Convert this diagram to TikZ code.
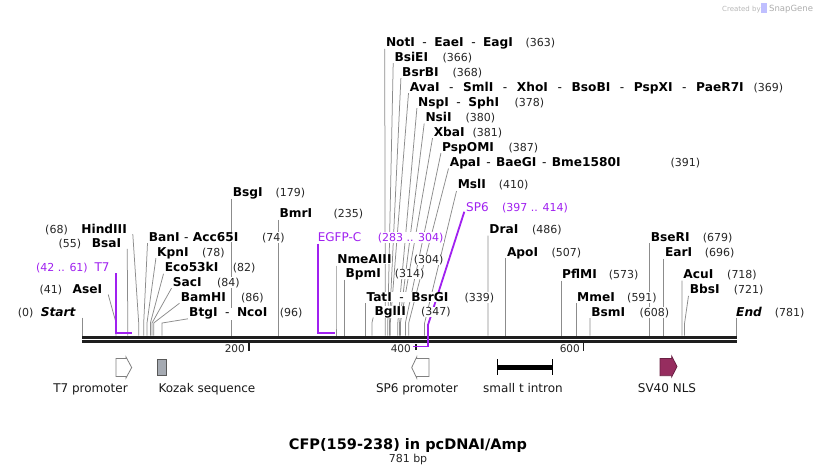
\documentclass[tikz,border=0pt]{standalone}
\usepackage{fontspec}
\setmainfont{DejaVu Sans}
\pgfdeclarelayer{back}
\pgfdeclarelayer{bg}
\pgfsetlayers{back,bg,main}
\definecolor{sgpurple}{RGB}{160,32,240}
\definecolor{nlscol}{RGB}{150,45,95}
\definecolor{kozcol}{RGB}{165,170,178}
\definecolor{barcol}{RGB}{30,30,30}
\tikzset{
  nm/.style={font=\fontsize{12.2}{14}\selectfont\bfseries, inner sep=0.3pt, fill=white, text=black},
  num/.style={font=\fontsize{11}{13}\selectfont, inner sep=0.3pt, fill=white, text=black!85},
  plab/.style={font=\fontsize{12}{14}\selectfont, inner sep=0.3pt, fill=white, text=sgpurple},
  pnum/.style={font=\fontsize{11}{13}\selectfont, inner sep=0.3pt, fill=white, text=sgpurple},
  lead/.style={draw=black!45, line width=0.75pt},
  purp/.style={draw=sgpurple, line width=1.8pt},
  flab/.style={font=\fontsize{12}{14}\selectfont, inner sep=0pt, text=black!90},
  ticklab/.style={font=\fontsize{10.5}{12}\selectfont, inner sep=0pt, text=black!85},
  tickmark/.style={draw=barcol, line width=1.8pt},
  openarrow/.style={draw=black!50, fill=white, line width=0.8pt, line join=miter},
}
\newcommand\sepd[1][7.5pt]{\hspace{#1}{\mdseries -}\hspace{#1}}
% right-hand label: id, label x, label y (centre), site x, name, number x, number
\newcommand\rlab[7]{%
  \node[nm, anchor=base west] (n#1) at ({#2},{#3+4.4}) {#5};
  \node[num, anchor=base west] (u#1) at ({#6},{#3+4.4}) {(#7)};
  \coordinate (a#1) at ({#2-0.8},{#3+6.5});
  \coordinate (k#1) at ({#4},323);
  \coordinate (s#1) at ({#4},335.6);
  \begin{pgfonlayer}{bg}\draw[lead] (a#1) -- (k#1) -- (s#1);\end{pgfonlayer}
}
% left-hand label: id, name right x, label y, site x, name, number right x, number
\newcommand\llab[7]{%
  \node[nm, anchor=base east] (n#1) at ({#2},{#3+4.4}) {#5};
  \node[num, anchor=base east] (u#1) at ({#6},{#3+4.4}) {(#7)};
  \coordinate (a#1) at ({#2+5.5},{#3+5.5});
  \coordinate (k#1) at ({#4},323);
  \coordinate (s#1) at ({#4},335.6);
  \begin{pgfonlayer}{bg}\draw[lead] (a#1) -- (k#1) -- (s#1);\end{pgfonlayer}
}
\begin{document}
\begin{tikzpicture}[x=1pt,y=-1pt]
\useasboundingbox (0,0) rectangle (818,475);
\begin{pgfonlayer}{back}
\fill[white] (0,0) rectangle (818,475);
\end{pgfonlayer}

% watermark
\node[font=\fontsize{7}{8}\selectfont, text=black!28, anchor=base west, inner sep=0] (wm1) at (722,11) {Created by};
\fill[blue!25] (761,3) rectangle (766.5,13);
\node[font=\fontsize{8.5}{9}\selectfont, text=black!32, anchor=base west, inner sep=0] (wm2) at (769,11.5) {SnapGene};

% ---------- top cluster ----------
\rlab{NotI}{385.5}{42.3}{385.3}{NotI\sepd EaeI\sepd EagI}{525}{363}
\rlab{BsiEI}{394}{56.7}{387.8}{BsiEI}{442}{366}
\rlab{BsrBI}{401.7}{71.7}{389.5}{BsrBI}{452}{368}
\rlab{AvaI}{409.3}{86.7}{390.3}{AvaI\sepd[9.6pt]SmlI\sepd[9.6pt]XhoI\sepd[9.6pt]BsoBI\sepd[9.6pt]PspXI\sepd[9.6pt]PaeR7I}{753}{369}
\rlab{NspI}{417.7}{101.7}{397.8}{NspI\sepd SphI}{514}{378}
\rlab{NsiI}{425}{117}{399.5}{NsiI}{465}{380}
\rlab{XbaI}{433.3}{131.7}{400.4}{XbaI}{472}{381}
\rlab{PspOMI}{441.7}{146.7}{405.4}{PspOMI}{508}{387}
\rlab{ApaI}{449.3}{162}{408.7}{ApaI\sepd[5.5pt]BaeGI\sepd[5.5pt]Bme1580I}{670}{391}
\rlab{MslI}{457.3}{184.5}{424.6}{MslI}{498.3}{410}

% ---------- left group ----------
\llab{AseI}{102.7}{289}{116.1}{AseI}{62.7}{41}
\llab{BsaI}{121.7}{243.3}{127.8}{BsaI}{81.7}{55}
\llab{HindIII}{127.3}{228.7}{138.7}{HindIII}{68.3}{68}
\rlab{BanI}{148.3}{236.7}{143.7}{BanI\sepd[4.5pt]Acc65I}{261.7}{74}
\rlab{KpnI}{156.7}{251.7}{147.0}{KpnI}{201.7}{78}
\rlab{Eco53kI}{164.3}{267.3}{150.4}{Eco53kI}{232.3}{82}
\rlab{SacI}{172.3}{281.7}{152.0}{SacI}{216.7}{84}
\rlab{BamHI}{180.3}{296.7}{153.7}{BamHI}{240.7}{86}
\rlab{BtgI}{188.7}{312.3}{162.1}{BtgI\sepd NcoI}{279.3}{96}
\rlab{BsgI}{232.3}{192.3}{231.5}{BsgI}{275}{179}
\rlab{BmrI}{279.1}{213.3}{278.3}{BmrI}{333}{235}

% ---------- middle ----------
\rlab{NmeAIII}{336.8}{259}{336.0}{NmeAIII}{413.3}{304}
\rlab{BpmI}{345.1}{273.3}{344.3}{BpmI}{394.3}{314}
\rlab{TatI}{366}{296.7}{365.2}{TatI\sepd BsrGI}{464}{339}
\rlab{BglII}{374}{311}{371.9}{BglII}{420.7}{347}

% ---------- right group ----------
\rlab{DraI}{488.9}{229}{488.1}{DraI}{531.7}{486}
\rlab{ApoI}{506.5}{251.7}{505.7}{ApoI}{551}{507}
\rlab{PflMI}{561.7}{274}{560.9}{PflMI}{608.3}{573}
\rlab{MmeI}{576.7}{296.7}{575.9}{MmeI}{626.7}{591}
\rlab{BsmI}{590.9}{311.7}{590.1}{BsmI}{639}{608}
\rlab{BseRI}{650.3}{236.7}{649.5}{BseRI}{702.3}{679}
\rlab{EarI}{664.5}{252.3}{663.7}{EarI}{704.3}{696}
\rlab{AcuI}{682.9}{274}{682.1}{AcuI}{726.7}{718}
\rlab{BbsI}{689.3}{289.3}{684.6}{BbsI}{733.3}{721}

% ---------- Start / End ----------
\node[nm, font=\fontsize{12.2}{14}\selectfont\bfseries\itshape, anchor=base east] (nStart) at (76,316.1) {Start};
\node[num, anchor=base east] (uStart) at (34,316.1) {(0)};
\node[nm, font=\fontsize{12.2}{14}\selectfont\bfseries\itshape, anchor=base west] (nEnd) at (735.7,316.1) {End};
\node[num, anchor=base west] (uEnd) at (774.3,316.1) {(781)};
\coordinate (sStart) at (82.8,335.6);
\coordinate (tStart) at (82.8,317.5);
\coordinate (sEnd) at (735.9,335.6);
\coordinate (tEnd) at (735.9,317.5);
\begin{pgfonlayer}{bg}
\draw[lead] (tStart) -- (sStart);
\draw[lead] (tEnd) -- (sEnd);
\end{pgfonlayer}

% ---------- primer / feature labels (purple) ----------
\node[plab, anchor=base east] (nT7) at (110,271.7) {T7};
\node[pnum, anchor=base east] (uT7) at (88.3,271.7) {(42 .. 61)};
\node[plab, anchor=base west] (nEGFP) at (317.3,241.1) {EGFP-C};
\node[pnum, anchor=base west] (uEGFP) at (377.3,241.1) {(283 .. 304)};
\node[plab, anchor=base west] (nSP6) at (465.7,211.1) {SP6};
\node[pnum, anchor=base west] (uSP6) at (501.7,211.1) {(397 .. 414)};
\coordinate (t7a) at (116.3,273.3);
\coordinate (t7b) at (116.3,332.8);
\coordinate (t7c) at (131.7,332.8);
\coordinate (ega) at (317.7,243.5);
\coordinate (egb) at (317.7,332.8);
\coordinate (egc) at (335,332.8);
\coordinate (spa) at (464.3,211.7);
\coordinate (spb) at (428.3,324);
\coordinate (spc) at (428.3,346.4);
\coordinate (spd) at (413.3,346.4);

% ---------- sequence bar ----------
\draw[draw=barcol, line width=3.2pt] (82,337.2) -- (736.8,337.2);
\draw[draw=barcol, line width=2.8pt] (82,341.8) -- (736.8,341.8);
% ticks
\draw[tickmark] (249,343) -- (249,350.8);
\draw[tickmark] (416.2,344) -- (416.2,350.2);
\draw[tickmark] (583.5,343) -- (583.5,350.8);
\node[ticklab, anchor=base east] (t200) at (245,352.7) {200};
\node[ticklab, anchor=base east] (t400) at (411,352.7) {400};
\node[ticklab, anchor=base east] (t600) at (580,352.7) {600};

% purple primer lines
\begin{pgfonlayer}{bg}
\draw[purp] (spa) -- (spb);
\end{pgfonlayer}
\draw[purp] (t7a) -- (t7b) -- (t7c);
\draw[purp] (ega) -- (egb) -- (egc);
\draw[purp] (spb) -- (spc) -- (spd);

% ---------- features ----------
\draw[openarrow] (116,358.5) -- (126,358.5) -- (126,357) -- (131.7,367.5) -- (126,378) -- (126,376.5) -- (116,376.5) -- cycle;
\draw[draw=black!65, fill=kozcol, line width=0.8pt] (157.7,359) rectangle (166,375.5);
\draw[openarrow] (429,358.5) -- (416.7,358.5) -- (416.7,357) -- (411.7,367.5) -- (416.7,378) -- (416.7,376.5) -- (429,376.5) -- cycle;
\draw[draw=black, line width=4.5pt] (497.3,367.6) -- (552.3,367.6);
\draw[draw=black, line width=1.3pt] (497.3,359.3) -- (497.3,375.3);
\draw[draw=black, line width=1.3pt] (552.3,359.3) -- (552.3,375.3);
\draw[draw=nlscol!70!black, fill=nlscol, line width=0.7pt, line join=miter] (660,358.5) -- (671.7,358.5) -- (671.7,356) -- (677,366.5) -- (671.7,377) -- (671.7,375.7) -- (660,375.7) -- cycle;

\node[flab, anchor=base] (fT7) at (90.5,392.8) {T7 promoter};
\node[flab, anchor=base west] (fKoz) at (158.3,392.8) {Kozak sequence};
\node[flab, anchor=base] (fSP6) at (417,392.8) {SP6 promoter};
\node[flab, anchor=base] (fint) at (523,392.8) {small t intron};
\node[flab, anchor=base] (fnls) at (667,392.8) {SV40 NLS};

% ---------- title ----------
\node[font=\fontsize{14.5}{17}\selectfont\bfseries, inner sep=0, anchor=base] (title) at (408,449.3) {CFP(159-238) in pcDNAI/Amp};
\node[font=\fontsize{11}{13}\selectfont, inner sep=0, anchor=base, text=black!85] (bp) at (408,462.7) {781 bp};
\end{tikzpicture}
\end{document}
